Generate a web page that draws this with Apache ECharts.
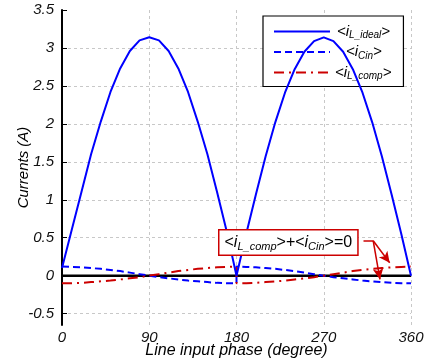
<!DOCTYPE html>
<html>
<head>
<meta charset="utf-8">
<script src="https://cdn.jsdelivr.net/npm/echarts@6/dist/echarts.min.js"></script>
<style>
  html, body { margin: 0; padding: 0; background: #fff; }
  #main { width: 429px; height: 362px; }
</style>
</head>
<body>
<div id="main"></div>
<script>
// phase samples (degree) for the two half cycles
var phaseA = [0, 10, 20, 30, 40, 50, 60, 70, 80, 90, 100, 110, 120, 130, 140, 150, 160, 170, 180];
var phaseB = [180, 190, 200, 210, 220, 230, 240, 250, 260, 270, 280, 290, 300, 310, 320, 330, 340, 350, 360];

// <iL_ideal>
var iLIdealA = [0.1, 0.6, 1.1, 1.6, 2.03, 2.42, 2.73, 2.96, 3.1, 3.14, 3.1, 2.96, 2.73, 2.42, 2.03, 1.6, 1.1, 0.58, 0.0];
var iLIdealB = [0.0, 0.55, 1.07, 1.57, 2.02, 2.41, 2.72, 2.95, 3.09, 3.14, 3.09, 2.95, 2.72, 2.41, 2.02, 1.57, 1.07, 0.55, 0.0];
// <iCin>
var iCinA = [0.12, 0.115, 0.11, 0.1, 0.09, 0.075, 0.06, 0.04, 0.02, 0, -0.02, -0.035, -0.05, -0.065, -0.075, -0.085, -0.095, -0.1, -0.1];
var iCinB = [0.12, 0.115, 0.11, 0.1, 0.09, 0.075, 0.06, 0.04, 0.02, 0, -0.02, -0.035, -0.05, -0.065, -0.075, -0.085, -0.095, -0.1, -0.1];
// <iL_comp>
var iLCompA = [-0.1, -0.1, -0.095, -0.085, -0.075, -0.065, -0.05, -0.035, -0.02, 0, 0.02, 0.04, 0.06, 0.075, 0.09, 0.1, 0.11, 0.115, 0.12];
var iLCompB = [-0.1, -0.1, -0.095, -0.085, -0.075, -0.065, -0.05, -0.035, -0.02, 0, 0.02, 0.04, 0.06, 0.075, 0.09, 0.1, 0.11, 0.115, 0.12];

var yTicks = [-0.5, 0, 0.5, 1, 1.5, 2, 2.5, 3, 3.5];

function pairs(xs, ys) {
  return xs.map(function (x, i) { return [x, ys[i]]; });
}

var chart = echarts.init(document.getElementById('main'));

var font = 'Arial, "Liberation Sans", sans-serif';
var richText = {
  m: { fontSize: 15, fontFamily: font, fontStyle: 'italic', color: '#000', lineHeight: 18 },
  s: { fontSize: 10, fontFamily: font, fontStyle: 'italic', color: '#000', lineHeight: 12, verticalAlign: 'bottom' }
};
var legendNames = {
  'iL_ideal': '{m|<i}{s|L_ideal}{m|>}',
  'iCin': '{m|<i}{s|Cin}{m|>}',
  'iL_comp': '{m|<i}{s|L_comp}{m|>}'
};

var option = {
  backgroundColor: '#fff',
  animation: false,
  grid: { left: 62, right: 18, top: 10, bottom: 37, outerBoundsMode: 'none' },
  legend: {
    orient: 'vertical',
    left: 263,
    top: 16,
    width: 139,
    padding: [8, 12, 5, 10],
    itemGap: 4,
    itemWidth: 56,
    itemHeight: 14,
    backgroundColor: '#fff',
    borderColor: '#000',
    borderWidth: 1.2,
    borderRadius: 0,
    itemStyle: { opacity: 0 },
    data: [
      { name: 'iL_ideal', textStyle: { padding: [0, 0, 0, 2] } },
      { name: 'iCin', textStyle: { padding: [0, 0, 0, 11] } },
      { name: 'iL_comp', textStyle: { padding: [0, 0, 0, 0] } }
    ],
    formatter: function (name) { return legendNames[name]; },
    textStyle: { rich: richText }
  },
  xAxis: {
    type: 'value',
    min: 0,
    max: 360,
    interval: 90,
    name: 'Line input phase (degree)',
    nameLocation: 'middle',
    nameGap: 18,
    nameMoveOverlap: false,
    nameTextStyle: { fontSize: 16, fontStyle: 'italic', fontFamily: font, color: '#000' },
    axisLine: { show: false },
    axisTick: { show: false },
    axisLabel: { fontSize: 15, fontStyle: 'italic', fontFamily: font, color: '#111', margin: 5 },
    splitLine: { show: true, lineStyle: { color: '#c8c8c8', type: [3, 3], width: 1 } }
  },
  yAxis: {
    type: 'value',
    min: -0.65,
    max: 3.5,
    name: 'Currents (A)',
    nameLocation: 'middle',
    nameGap: 31,
    nameMoveOverlap: false,
    nameTextStyle: { fontSize: 15, fontStyle: 'italic', fontFamily: font, color: '#000' },
    axisLine: { show: true, onZero: false, lineStyle: { color: '#000', width: 2 } },
    axisTick: { show: true, inside: true, length: 5, customValues: yTicks, lineStyle: { color: '#000', width: 1 } },
    axisLabel: { customValues: yTicks, fontSize: 15, fontStyle: 'italic', fontFamily: font, color: '#111', margin: 8 },
    splitLine: { show: true, showMaxLine: false, lineStyle: { color: '#c8c8c8', type: [3, 3], width: 1 } }
  },
  series: [
    {
      name: 'zero',
      type: 'line',
      data: [[0, 0], [360, 0]],
      symbol: 'none',
      silent: true,
      z: 1,
      lineStyle: { color: '#000', width: 2.5 }
    },
    {
      name: 'iL_ideal',
      type: 'line',
      data: pairs(phaseA, iLIdealA).concat(pairs(phaseB, iLIdealB)),
      symbol: 'none',
      z: 4,
      lineStyle: { color: '#0000ff', width: 2 },
      itemStyle: { color: '#0000ff' }
    },
    {
      name: 'iCin',
      type: 'line',
      data: pairs(phaseA, iCinA).concat(pairs(phaseB, iCinB)),
      symbol: 'none',
      z: 3,
      lineStyle: { color: '#0000ff', width: 2, type: [7, 4] },
      itemStyle: { color: '#0000ff' }
    },
    {
      name: 'iL_comp',
      type: 'line',
      data: pairs(phaseA, iLCompA).concat(pairs(phaseB, iLCompB)),
      symbol: 'none',
      z: 3,
      lineStyle: { color: '#cc0000', width: 2, type: [10, 5, 2, 5] },
      itemStyle: { color: '#cc0000' },
      markLine: {
        silent: true,
        animation: false,
        symbol: ['none', 'arrow'],
        symbolSize: [8, 11],
        label: { show: false },
        lineStyle: { color: '#cc0000', width: 1.5, type: 'solid' },
        data: [
          [{ coord: [311, 0.46], symbol: 'none' }, { coord: [321, 0.46], symbol: 'none' }],
          [{ coord: [321, 0.46] }, { coord: [338, 0.17] }],
          [{ coord: [321, 0.46] }, { coord: [328, -0.05] }]
        ]
      }
    }
  ],
  graphic: [
    {
      type: 'text',
      left: 218,
      top: 229,
      z: 100,
      style: {
        text: '{m|<}{i|i}{s|L_comp}{m|>+<}{i|i}{s|Cin}{m|>=0}',
        backgroundColor: '#fff',
        borderColor: '#cc0000',
        borderWidth: 1.5,
        borderType: [2, 2],
        padding: [2, 5, 2, 5],
        rich: {
          m: { fontSize: 16, fontFamily: font, color: '#000', lineHeight: 20 },
          i: { fontSize: 16, fontFamily: font, fontStyle: 'italic', color: '#000', lineHeight: 20 },
          s: { fontSize: 11, fontFamily: font, fontStyle: 'italic', color: '#000', lineHeight: 13, verticalAlign: 'bottom' }
        }
      }
    }
  ]
};

chart.setOption(option);
</script>
</body>
</html>
